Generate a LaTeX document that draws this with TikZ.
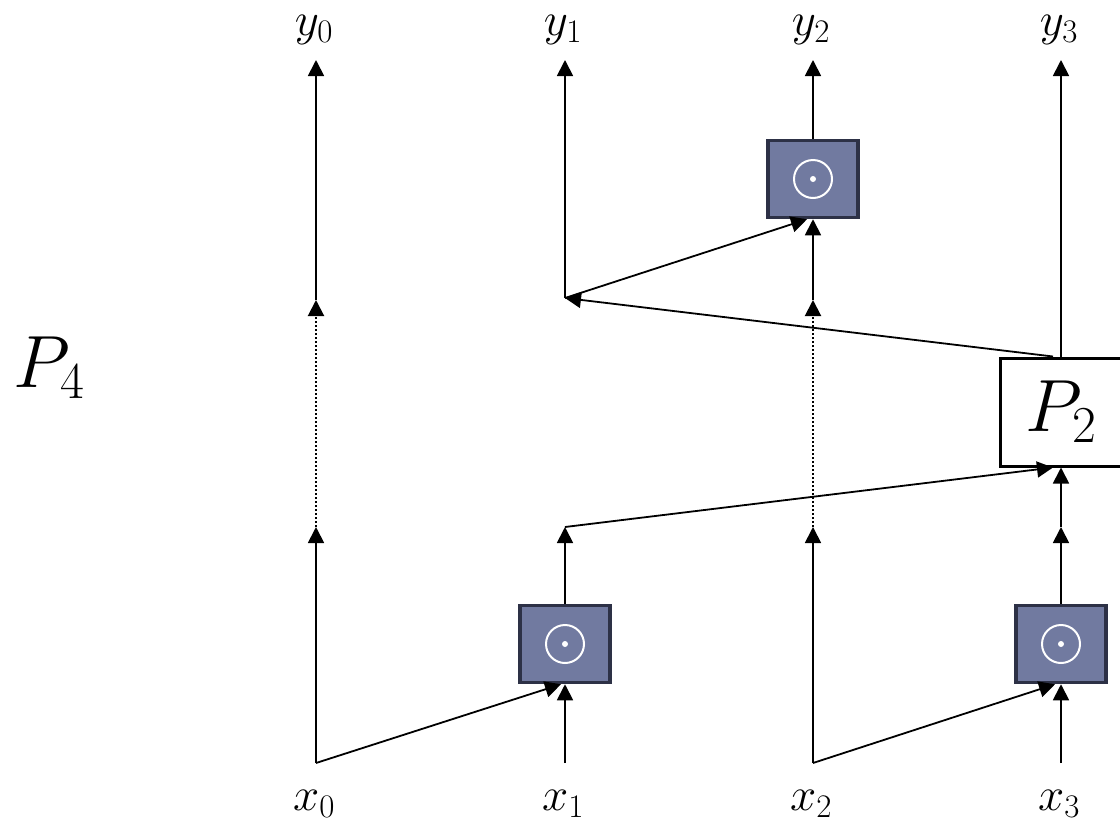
\RequirePackage{fix-cm}
\documentclass[tikz,border=0pt]{standalone}
\usetikzlibrary{arrows.meta}
\definecolor{gatefill}{HTML}{717AA0}
\definecolor{gateborder}{HTML}{2D3146}
\begin{document}
\begin{tikzpicture}[x=1pt,y=-1pt,
  arr/.style={-{Triangle[length=16pt,width=16pt]}, line width=1.8pt},
  dotarr/.style={arr, line width=2pt, dash pattern=on 2pt off 2pt},
  gate/.style={draw=gateborder, line width=3.5pt, fill=gatefill, minimum width=90pt, minimum height=77pt, inner sep=0pt},
  pbox/.style={draw=black, line width=3pt, fill=white, minimum width=122pt, minimum height=108pt, inner sep=0pt, font=\fontsize{74}{80}\selectfont},
  lbl/.style={font=\fontsize{47}{54}\selectfont, inner sep=0pt},
  big/.style={font=\fontsize{74}{80}\selectfont, inner sep=0pt},
  odot/.style={white, line width=2pt}
]
\useasboundingbox (0,0) rectangle (1120,828);

% labels
\node[lbl] (y0) at (314,30) {$y_0$};
\node[lbl] (y1) at (563,30) {$y_1$};
\node[lbl] (y2) at (811,30) {$y_2$};
\node[lbl] (y3) at (1059,30) {$y_3$};
\node[lbl] (x0) at (314,804) {$x_0$};
\node[lbl] (x1) at (563,804) {$x_1$};
\node[lbl] (x2) at (811,804) {$x_2$};
\node[lbl] (x3) at (1059,804) {$x_3$};
\node[big] (P4) at (49,368) {$P_4$};

% gates and P2
\node[gate] (g1) at (565,644) {};
\node[gate] (g3) at (1061,644) {};
\node[gate] (g2) at (813,179) {};
\node[pbox] (P2) at (1061,412) {$P_2$};

\foreach \g in {g1,g2,g3}{
  \draw[odot] (\g.center) circle (19pt);
  \fill[white] (\g.center) circle (3pt);
}

% coordinates
\coordinate (c0) at (316,763);
\coordinate (c1) at (565,763);
\coordinate (c2) at (813,763);
\coordinate (c3) at (1061,763);
\coordinate (a0) at (316,527);
\coordinate (a1) at (565,527);
\coordinate (a2) at (813,527);
\coordinate (a3) at (1061,527);
\coordinate (b0) at (316,300);
\coordinate (b1) at (565,298);
\coordinate (b2) at (813,300);
\coordinate (t0) at (316,60);
\coordinate (t1) at (565,60);
\coordinate (t2) at (813,60);
\coordinate (t3) at (1061,60);

% column 0
\draw[arr] (c0) -- (a0);
\draw[dotarr] (a0) -- (b0);
\draw[arr] (b0) -- (t0);
\draw[arr] (c0) -- ([xshift=-4pt]g1.south);

% column 1
\draw[arr] (c1) -- (g1.south);
\draw[arr] (g1.north) -- (a1);
\draw[arr] (a1) -- ([xshift=-8pt]P2.south);
\draw[arr] ([xshift=-8pt]P2.north) -- (b1);
\draw[arr] (b1) -- (t1);
\draw[arr] (b1) -- ([xshift=-6pt]g2.south);

% column 2
\draw[arr] (c2) -- (a2);
\draw[dotarr] (a2) -- (b2);
\draw[arr] (b2) -- (g2.south);
\draw[arr] (g2.north) -- (t2);
\draw[arr] (c2) -- ([xshift=-6pt]g3.south);

% column 3
\draw[arr] (c3) -- (g3.south);
\draw[arr] (g3.north) -- (a3);
\draw[arr] (a3) -- (P2.south);
\draw[arr] (P2.north) -- (t3);
\end{tikzpicture}
\end{document}
